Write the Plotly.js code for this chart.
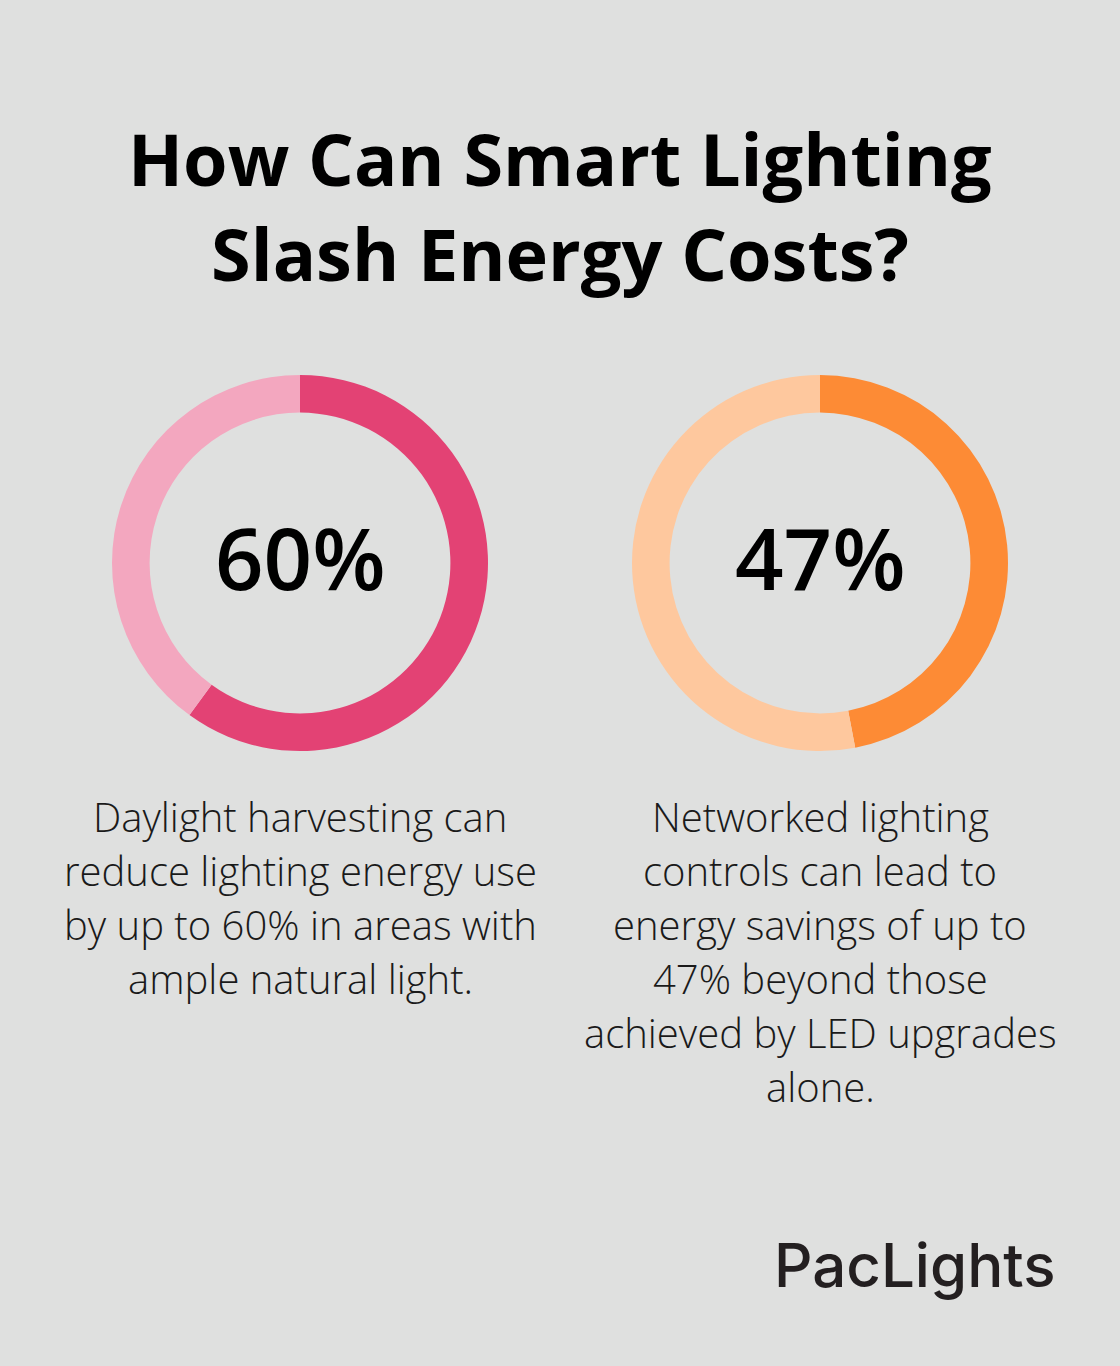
<!DOCTYPE html>
<html>
<head>
<meta charset="utf-8">
<script src="https://cdn.plot.ly/plotly-3.0.1.min.js"></script>
<style>html,body{margin:0;padding:0;background:#dfe0df;}#chart{width:1120px;height:1366px;}</style>
</head>
<body>
<div id="chart"></div>
<script>
// ---- data ----
const titleLines = ["How Can Smart Lighting", "Slash Energy Costs?"];
const stats = [60, 47];
const statLabels = ["60%", "47%"];
const sliceLabels = ["Savings", "Remaining"];
const darkColors = ["#e34274", "#fd8b35"];
const lightColors = ["#f3a7bf", "#fec89e"];
const descLeft = ["Daylight harvesting can", "reduce lighting energy use", "by up to 60% in areas with", "ample natural light."];
const descRight = ["Networked lighting", "controls can lead to", "energy savings of up to", "47% beyond those", "achieved by LED upgrades", "alone."];
const brand = "PacLights";

// ---- layout helpers ----
const W = 1120, H = 1366;
const px = x => x / W;
const py = y => 1 - y / H;
const centers = [300, 820];
const cy = 563, R = 188;

const traces = stats.map((v, i) => ({
  type: 'pie',
  values: [v, 100 - v],
  labels: sliceLabels,
  hole: 0.8,
  sort: false,
  direction: 'clockwise',
  rotation: 0,
  textinfo: 'none',
  hoverinfo: 'none',
  showlegend: false,
  marker: { colors: [darkColors[i], lightColors[i]], line: { width: 0 } },
  domain: { x: [px(centers[i] - R), px(centers[i] + R)], y: [py(cy + R), py(cy - R)] }
}));

const ann = [];
titleLines.forEach((t, i) => ann.push({
  text: t, x: 0.5, y: py(158 + i * 95), xref: 'paper', yref: 'paper',
  xanchor: 'center', yanchor: 'middle', showarrow: false,
  font: { family: 'Open Sans', size: 72, color: '#000000', weight: 700 }
}));
statLabels.forEach((t, i) => ann.push({
  text: t, x: px(centers[i]), y: py(cy - 6), xref: 'paper', yref: 'paper',
  xanchor: 'center', yanchor: 'middle', showarrow: false,
  font: { family: 'Open Sans', size: 85, color: '#000000', weight: 600 }
}));
[descLeft, descRight].forEach((lines, i) => lines.forEach((t, j) => ann.push({
  text: t, x: px(centers[i]), y: py(816 + j * 54), xref: 'paper', yref: 'paper',
  xanchor: 'center', yanchor: 'middle', showarrow: false,
  font: { family: 'Open Sans', size: 40, color: '#1a1a1a', weight: 300 }
})));
ann.push({
  text: brand, x: px(1057), y: py(1265), xref: 'paper', yref: 'paper',
  xanchor: 'right', yanchor: 'middle', showarrow: false,
  font: { family: 'Inter', size: 60, color: '#231f20', weight: 500 }
});

const layout = {
  width: W, height: H,
  margin: { l: 0, r: 0, t: 0, b: 0 },
  paper_bgcolor: '#dfe0df',
  plot_bgcolor: '#dfe0df',
  annotations: ann
};
Plotly.newPlot('chart', traces, layout, { displayModeBar: false, staticPlot: true });
</script>
</body>
</html>
